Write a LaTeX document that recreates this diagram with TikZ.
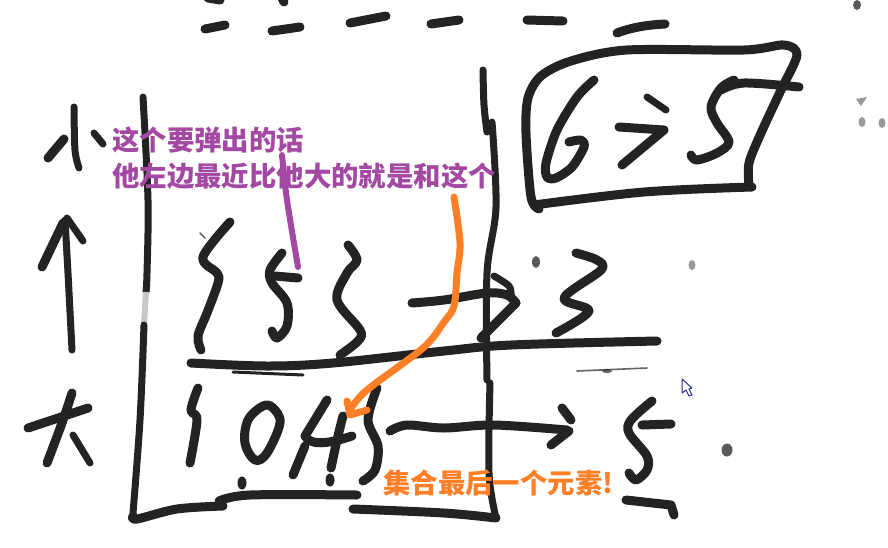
\documentclass[tikz,border=0pt]{standalone}
\usepackage{fontspec}
\newfontfamily\cjk{Noto Sans CJK SC}
\definecolor{inkc}{HTML}{232323}
\definecolor{purp}{HTML}{A349A4}
\definecolor{orng}{HTML}{FF7F27}
\tikzset{
  ink/.style={draw=inkc,line width=9pt,line cap=round,line join=round},
  inkthin/.style={draw=inkc,line width=7pt,line cap=round,line join=round},
  faint/.style={draw=inkc,line width=1.6pt,line cap=round,opacity=.7},
  spot/.style={fill=inkc},
  greyspot/.style={fill=gray!80},
  purpline/.style={draw=purp,line width=6pt,line cap=round,line join=round},
  orngline/.style={draw=orng,line width=7pt,line cap=round,line join=round},
  purptext/.style={text=purp,anchor=west,inner sep=0pt,font=\cjk\bfseries\fontsize{27.4}{27.4}\selectfont},
  orngtext/.style={text=orng,anchor=west,inner sep=0pt,font=\cjk\bfseries\fontsize{27.4}{27.4}\selectfont},
  sm/.style={smooth,tension=.55}
}
\begin{document}
\begin{tikzpicture}[x=1pt,y=-1pt]
\useasboundingbox (0,0) rectangle (888,547);
\fill[white] (0,0) rectangle (888,547);
% top dashes
\draw[ink] (205,29) -- (225,25);
\draw[ink] (272,31) -- (300,27);
\draw[ink] (350,23) -- (386,16);
\draw[ink] (431,24) -- (459,20);
\draw[ink] (527,20) -- (563,21);
\draw[ink] (617,33) .. controls (630,28) and (645,25) .. (665,24);
\draw[ink] (208,-2) -- (220,0);
\draw[ink] (282,-2) -- (284,2);
% 小
\draw[inkthin] plot[sm] coordinates {(74,107) (75,150) (79,168)};
\draw[ink] (64,139) -- (48,158);
\draw[inkthin] (94,133) -- (103,144);
% arrow up
\draw[inkthin] plot[sm] coordinates {(65,220) (68,273) (72,350)};
\draw[ink] (63,223) -- (42,267);
\draw[inkthin] (67,218) -- (83,241);
% 大
\draw[ink] (28,428) -- (88,408);
\draw[ink] plot[sm] coordinates {(72,393) (62,423) (47,463)};
\draw[inkthin] (73,435) -- (90,463);
% frame
\draw[inkthin] plot[sm] coordinates {(143,97) (148,200) (147,273) (146,292)};
\draw[draw=inkc!25,line width=6pt] (146,292) -- (144,325);
\draw[inkthin] plot[sm] coordinates {(144,325) (140,420) (133,513)};
\draw[ink] plot[sm] coordinates {(133,516) (137,519) (177,509) (223,506)};
\draw[ink] plot[sm] coordinates {(219,501) (250,495) (357,495)};
\draw[ink] plot[sm] coordinates {(353,509) (444,513) (496,518)};
\draw[inkthin] plot[sm] coordinates {(483,70) (484,105) (487,132)};
\draw[inkthin] plot[sm] coordinates {(492,122) (496,207) (487,273) (487,380)};
\draw[inkthin] plot[sm] coordinates {(490,383) (489,473) (496,518)};
% box
\draw[ink] plot[smooth,tension=.5] coordinates {(539,209) (531,197) (526,133) (528,98) (541,76) (571,61) (627,50) (744,50) (784,45) (797,55) (781,90) (761,133) (749,163) (749,185)};
\draw[ink] plot[sm] coordinates {(752,187) (644,192) (534,205)};
% 6
\draw[ink] plot[smooth,tension=.5] coordinates {(594,80) (577,97) (557,130) (546,163) (547,177) (556,178) (572,167) (584,147) (581,140) (569,142)};
% >
\draw[inkthin] (647,97) -- (666,110);
\draw[ink] (619,127) -- (664,130) -- (622,165);
% 5 in box
\draw[ink] plot[smooth,tension=.55] coordinates {(734,80) (721,88) (711,107) (717,123) (729,142) (717,153) (697,160) (691,155)};
\draw[ink] plot[sm] coordinates {(721,90) (744,83) (799,87)};
% top row digits
\draw[ink] plot[sm] coordinates {(230,222) (203,257) (217,273) (218,283) (207,313) (198,336) (201,350)};
\draw[faint] (200,233) -- (205,238);
\draw[ink] plot[sm] coordinates {(282,253) (270,270) (272,283) (287,303) (287,326) (277,338) (272,331)};
\draw[ink] (275,276) -- (298,278);
\draw[ink] plot[sm] coordinates {(348,245) (357,260) (347,273) (337,300) (360,330) (358,341) (340,355)};
\draw[ink] plot[sm] coordinates {(412,303) (444,300) (487,293) (507,295) (516,303)};
\draw[ink] (516,303) -- (481,338);
\draw[inkthin] plot[sm] coordinates {(494,276) (509,286) (511,295)};
\draw[ink] plot[sm] coordinates {(576,253) (597,260) (601,270) (564,298) (589,311) (556,333)};
% separators
\draw[ink] plot[sm] coordinates {(191,363) (267,366) (333,363) (444,351) (511,345) (657,341)};
\draw[inkthin,line width=3pt] (233,372) -- (303,375);
\draw[faint] (577,371) -- (647,368);
\fill[spot,opacity=.7] (607,371) ellipse (5pt and 2pt);
% bottom row digits
\draw[ink] plot[sm] coordinates {(198,388) (191,410) (197,420) (190,463)};
\draw[ink] plot[smooth cycle,tension=.6] coordinates {(263,406) (248,420) (245,443) (255,460) (267,453) (280,423) (273,408)};
\draw[ink] (327,400) -- (305,436) .. controls (310,445) and (325,445) .. (352,436);
\draw[ink] (305,446) -- (293,475);
\draw[ink] plot[sm] coordinates {(343,416) (337,440) (331,468)};
\fill[spot] (242,483) ellipse (4.5pt and 6.5pt);
\fill[spot] (330,480) ellipse (4.5pt and 6.5pt);
\draw[ink] plot[sm] coordinates {(377,388) (368,420) (378,446) (375,470) (363,481)};
\draw[ink] plot[sm] coordinates {(390,431) (407,425) (444,428) (494,425) (567,430)};
\draw[ink] (569,431) -- (551,445);
\draw[ink] (562,408) -- (571,420);
\draw[ink] plot[sm] coordinates {(652,401) (631,420) (629,433) (647,456) (647,470) (636,480) (629,473)};
\draw[ink] (642,425) -- (671,424);
\draw[ink] (626,500) -- (671,505) -- (674,515);
% specks
\fill[spot,opacity=.75] (857,5) ellipse (4pt and 5pt);
\fill[greyspot] (856,99) -- (867,97) -- (861,106) -- cycle;
\fill[greyspot] (862,122) ellipse (3.5pt and 5pt);
\fill[greyspot] (882,123) ellipse (3.5pt and 5pt);
\fill[spot,opacity=.75] (536,262) ellipse (4pt and 6pt);
\fill[greyspot] (692,265) ellipse (3.5pt and 5pt);
\fill[spot,opacity=.75] (727,450) ellipse (5.5pt and 6.5pt);
% cursor
\draw[draw=gray!50!blue!70!black,fill=white,line width=1pt,line join=round] (682,379) -- (682,393) -- (686,390) -- (689,396) -- (692,395) -- (689,389) -- (692,388) -- cycle;
% annotations
\draw[purpline] plot[sm] coordinates {(282,155) (287,200) (298,267)};
\node[purptext] (pa) at (112,140) {这个要弹出的话};
\node[purptext] (pb) at (112,176) {他左边最近比他大的就是和这个};
\draw[orngline] plot[sm] coordinates {(454,197) (460,243) (457,273) (454,306) (444,322) (423,348) (367,390) (350,410)};
\draw[orngline] (347,401) -- (350,415) -- (367,410);
\node[orngtext] (oa) at (383,483) {集合最后一个元素!};
\end{tikzpicture}
\end{document}
